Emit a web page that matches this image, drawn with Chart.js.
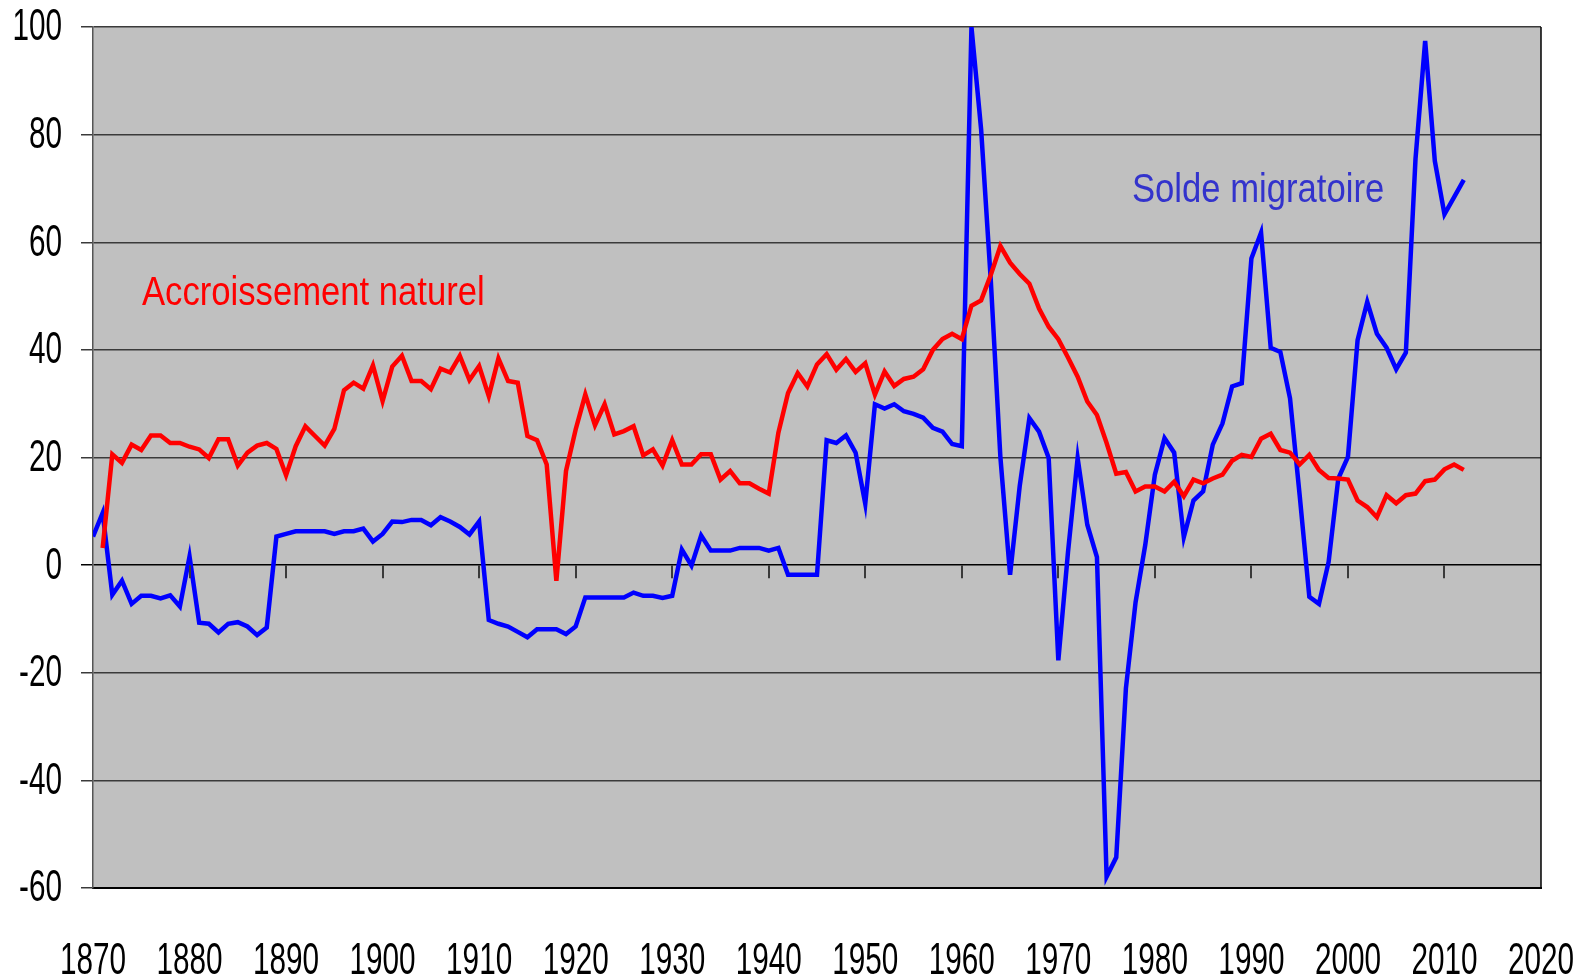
<!DOCTYPE html>
<html lang="fr">
<head>
<meta charset="utf-8">
<title>Accroissement naturel et solde migratoire</title>
<script src="https://cdn.jsdelivr.net/npm/chart.js@4.4.1/dist/chart.umd.min.js"></script>
<style>
  html, body { margin: 0; padding: 0; background: #fff; }
  .chart-box { width: 1579px; height: 976px; position: relative; }
</style>
</head>
<body>
<div class="chart-box"><canvas id="js-chart"></canvas></div>
<script>
  /* ━━━━  DATA  ━━━━ */
  const YEARS = [
    1870,1871,1872,1873,1874,1875,1876,1877,1878,1879,
    1880,1881,1882,1883,1884,1885,1886,1887,1888,1889,
    1890,1891,1892,1893,1894,1895,1896,1897,1898,1899,
    1900,1901,1902,1903,1904,1905,1906,1907,1908,1909,
    1910,1911,1912,1913,1914,1915,1916,1917,1918,1919,
    1920,1921,1922,1923,1924,1925,1926,1927,1928,1929,
    1930,1931,1932,1933,1934,1935,1936,1937,1938,1939,
    1940,1941,1942,1943,1944,1945,1946,1947,1948,1949,
    1950,1951,1952,1953,1954,1955,1956,1957,1958,1959,
    1960,1961,1962,1963,1964,1965,1966,1967,1968,1969,
    1970,1971,1972,1973,1974,1975,1976,1977,1978,1979,
    1980,1981,1982,1983,1984,1985,1986,1987,1988,1989,
    1990,1991,1992,1993,1994,1995,1996,1997,1998,1999,
    2000,2001,2002,2003,2004,2005,2006,2007,2008,2009,
    2010,2011,2012
  ];

  // accroissement naturel (red)
  const NATUREL = [
    null, 3.2,20.6,19.0,22.4,21.4,24.1,24.1,22.7,22.7,
    22.0,21.5,19.9,23.4,23.4,18.5,20.9,22.2,22.7,21.6,
    16.7,22.1,25.8,24.0,22.2,25.3,32.5,33.9,32.8,37.1,
    30.5,36.9,38.9,34.2,34.2,32.7,36.5,35.8,38.9,34.4,
    37.0,31.4,38.4,34.2,33.9,24.0,23.2,18.7,-2.9,17.5,
    25.2,31.7,26.0,29.9,24.3,24.9,25.8,20.4,21.5,18.5,
    23.2,18.7,18.7,20.6,20.6,15.9,17.5,15.2,15.2,14.2,
    13.3,24.6,32.0,35.7,33.2,37.3,39.2,36.3,38.3,35.9,
    37.5,31.7,36.0,33.3,34.6,35.0,36.4,40.0,42.0,43.0,
    42.0,48.2,49.2,53.9,59.3,56.2,54.1,52.3,47.7,44.3,
    42.0,38.6,35.0,30.4,27.9,22.7,17.0,17.3,13.7,14.6,
    14.6,13.7,15.5,12.8,15.9,15.2,16.1,16.8,19.4,20.5,
    20.1,23.5,24.4,21.4,20.9,18.7,20.5,17.7,16.2,16.1,
    15.9,12.0,10.8, 8.9,13.0,11.5,13.0,13.3,15.6,15.9,
    17.8,18.7,17.7
  ];

  // solde migratoire (blue)
  const MIGRATOIRE = [
     5.3,  9.7, -5.5, -2.9, -7.2, -5.7, -5.7, -6.2, -5.6, -7.7,
     1.6,-10.7,-10.9,-12.5,-10.9,-10.6,-11.4,-13.0,-11.6,  5.3,
     5.8,  6.3,  6.3,  6.3,  6.3,  5.8,  6.3,  6.3,  6.8,  4.4,
     5.8,  8.1,  8.0,  8.4,  8.4,  7.4,  8.9,  8.1,  7.1,  5.7,
     8.1,-10.2,-10.9,-11.4,-12.4,-13.4,-11.9,-11.9,-11.9,-12.8,
   -11.4, -6.0, -6.0, -6.0, -6.0, -6.0, -5.1, -5.7, -5.7, -6.1,
    -5.7,  2.9, -0.1,  5.5,  2.7,  2.7,  2.7,  3.2,  3.2,  3.2,
     2.7,  3.2, -1.8, -1.8, -1.8, -1.8, 23.2, 22.7, 24.1, 20.9,
    11.4, 29.9, 29.1, 29.9, 28.6, 28.1, 27.4, 25.5, 24.8, 22.5,
    22.1,100.0, 81.0, 53.0, 20.0, -1.8, 14.7, 27.3, 24.8, 19.9,
   -17.7,  2.4, 19.9,  7.5,  1.5,-57.9,-54.3,-22.9, -6.9,  3.7,
    16.8, 23.6, 20.9,  5.2, 12.0, 13.7, 22.4, 26.3, 33.2, 33.8,
    57.0, 61.8, 40.4, 39.6, 31.0, 13.0, -5.9, -7.2,  0.6, 16.1,
    20.1, 41.8, 48.9, 43.0, 40.4, 36.4, 39.5, 75.5, 97.4, 75.1,
    65.2, 68.4, 71.6
  ];

  const X_MIN = 1870, X_MAX = 2020, X_STEP = 10;
  const Y_MIN = -60,  Y_MAX = 100,  Y_STEP = 20;
  const ZERO_TICK_YEARS = [1880,1890,1900,1910,1920,1930,1940,1950,1960,1970,1980,1990,2000,2010];

  const SERIES_LABELS = ['Accroissement naturel', 'Solde migratoire'];

  /* ━━━━  STYLE  ━━━━ */
  const FONT = "'Liberation Sans', Arial, sans-serif";
  const PLOT_BG = '#c0c0c0';
  const TICK_FONT = '45px ' + FONT, TICK_SQUEEZE = 0.66;   // condensed look
  const NOTE_FONT = '40px ' + FONT, NOTE_SQUEEZE = 0.866;

  const toPoints = vals => YEARS.map((yr, i) => ({ x: yr, y: vals[i] }));

  function squeezedText(ctx, txt, x, y, sx, align) {
    ctx.save();
    ctx.translate(x, y);
    ctx.scale(sx, 1);
    ctx.textAlign = align;
    ctx.fillText(txt, 0, 0);
    ctx.restore();
  }

  /* plot background, tick labels, x ticks on the zero line, right frame, series names */
  const plotDecor = {
    id: 'plotDecor',
    beforeDraw(chart) {
      const { ctx, chartArea: a } = chart;
      ctx.save();
      ctx.fillStyle = PLOT_BG;
      ctx.fillRect(a.left, a.top, a.right - a.left, a.bottom - a.top);
      ctx.restore();
    },
    afterDraw(chart) {
      const { ctx, chartArea: a, scales } = chart;
      const y0 = scales.y.getPixelForValue(0);
      ctx.save();
      ctx.strokeStyle = '#3a3a3a';
      ctx.lineWidth = 2;
      ZERO_TICK_YEARS.forEach(yr => {
        const px = Math.round(scales.x.getPixelForValue(yr));
        ctx.beginPath();
        ctx.moveTo(px, y0);
        ctx.lineTo(px, y0 + 13);
        ctx.stroke();
      });
      // right frame
      ctx.strokeStyle = '#000';
      ctx.lineWidth = 1.5;
      ctx.beginPath();
      ctx.moveTo(a.right, a.top);
      ctx.lineTo(a.right, a.bottom);
      ctx.stroke();

      // tick labels
      ctx.fillStyle = '#000';
      ctx.font = TICK_FONT;
      ctx.textBaseline = 'middle';
      scales.y.ticks.forEach(t => {
        squeezedText(ctx, String(t.value), 62, scales.y.getPixelForValue(t.value) + 1, TICK_SQUEEZE, 'right');
      });
      ctx.textBaseline = 'alphabetic';
      scales.x.ticks.forEach(t => {
        squeezedText(ctx, String(t.value), scales.x.getPixelForValue(t.value), 974, TICK_SQUEEZE, 'center');
      });

      // series names
      ctx.font = NOTE_FONT;
      ctx.fillStyle = '#ff0000';
      squeezedText(ctx, SERIES_LABELS[0], 142, 305, NOTE_SQUEEZE, 'left');
      ctx.fillStyle = '#3333cc';
      squeezedText(ctx, SERIES_LABELS[1], 1132, 202, NOTE_SQUEEZE, 'left');
      ctx.restore();
    }
  };

  /* ━━━━  CHART  ━━━━ */
  new Chart(document.getElementById('js-chart'), {
    type: 'line',
    data: {
      datasets: [
        {
          label: SERIES_LABELS[0],
          data: toPoints(NATUREL),
          borderColor: '#ff0000',
          borderWidth: 4.5,
          pointRadius: 0,
          tension: 0,
          fill: false
        },
        {
          label: SERIES_LABELS[1],
          data: toPoints(MIGRATOIRE),
          borderColor: '#0000ff',
          borderWidth: 4.5,
          pointRadius: 0,
          tension: 0,
          fill: false
        }
      ]
    },
    options: {
      responsive: true,
      maintainAspectRatio: false,
      animation: false,
      layout: { padding: { top: 27, right: 38, left: 0, bottom: 0 } },
      plugins: {
        legend: { display: false },
        tooltip: { enabled: false }
      },
      scales: {
        x: {
          type: 'linear',
          min: X_MIN,
          max: X_MAX,
          afterFit: s => { s.height = 88; },
          afterBuildTicks: s => {
            const t = [];
            for (let v = X_MIN; v <= X_MAX; v += X_STEP) t.push({ value: v });
            s.ticks = t;
          },
          ticks: { display: false },
          grid: { display: false, drawTicks: false },
          border: { display: true, color: '#000', width: 2 }
        },
        y: {
          min: Y_MIN,
          max: Y_MAX,
          afterFit: s => { s.width = 93; },
          ticks: { stepSize: Y_STEP, display: false },
          grid: {
            color: c => (c.tick && c.tick.value === 0) ? '#000' : '#3a3a3a',
            lineWidth: 1.5,
            tickLength: 12,
            drawTicks: true
          },
          border: { display: true, color: '#555', width: 1.5 }
        }
      }
    },
    plugins: [plotDecor]
  });
</script>
</body>
</html>
